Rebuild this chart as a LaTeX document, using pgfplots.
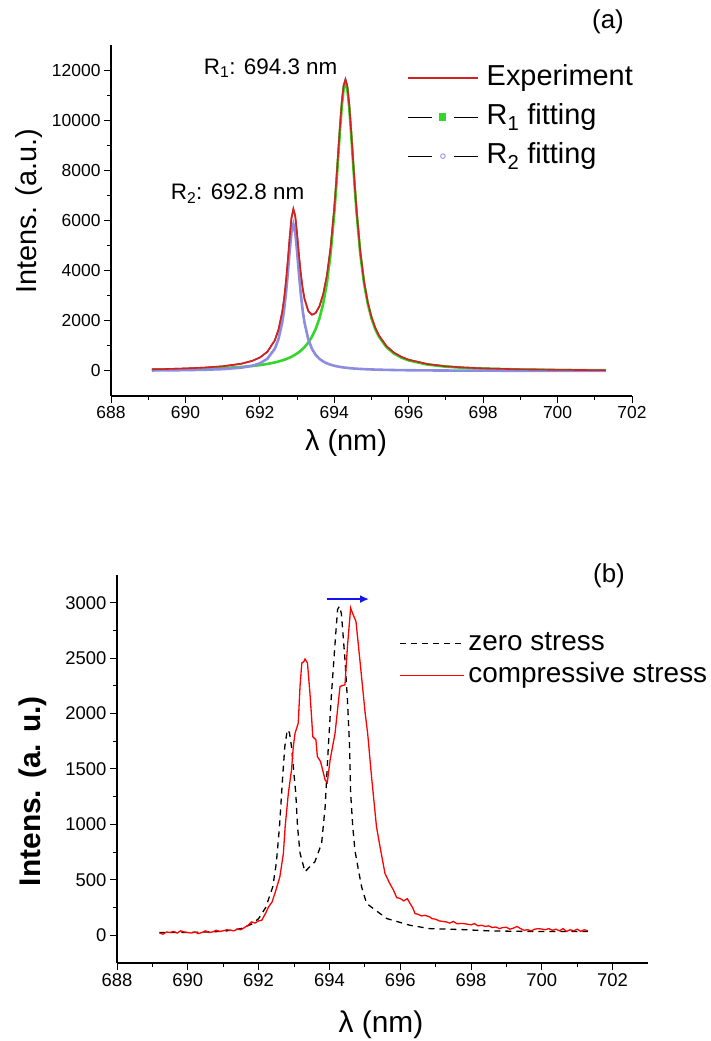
\documentclass[border=0pt]{standalone}
\usepackage{pgfplots}
\usepackage{pgfplotstable}
\pgfplotsset{compat=1.18}
\usetikzlibrary{arrows.meta}
\usepackage{fontspec}
\setmainfont{Liberation Sans}

\definecolor{expred}{RGB}{205,35,35}
\definecolor{fitgreen}{RGB}{50,215,40}
\definecolor{fitlav}{RGB}{140,140,225}
\definecolor{cred}{RGB}{255,0,0}
\definecolor{arrblue}{RGB}{20,20,240}

\pgfplotstableread{
x r1 r2 ex
689.1 46 18 64
689.5 54 22 76
690.0 67 31 98
690.5 86 45 131
691.0 114 71 184
691.5 158 129 286
691.8 197 206 403
692.0 232 302 534
692.2 277 483 760
692.4 337 878 1215
692.5 374 1265 1639
692.6 418 1925 2343
692.65 442 2420 2862
692.7 469 3068 3537
692.75 499 3874 4373
692.8 531 4769 5300
692.85 566 5536 6102
692.9 605 5850 6455
692.95 649 5536 6185
693.0 696 4769 5465
693.05 749 3874 4623
693.1 809 3068 3877
693.15 875 2420 3295
693.2 950 1925 2875
693.3 1129 1265 2394
693.4 1363 878 2241
693.5 1672 639 2311
693.6 2091 483 2574
693.7 2670 377 3047
693.8 3489 302 3791
693.9 4656 247 4903
694.0 6293 206 6499
694.05 7307 189 7496
694.1 8411 174 8585
694.15 9531 161 9692
694.2 10533 149 10682
694.25 11242 138 11380
694.3 11500 129 11629
694.35 11242 120 11362
694.4 10533 112 10645
694.45 9531 105 9636
694.5 8411 99 8510
694.55 7307 93 7400
694.6 6293 88 6381
694.7 4656 79 4735
694.8 3489 71 3560
694.9 2670 64 2734
695.0 2091 58 2149
695.1 1672 53 1725
695.2 1363 48 1411
695.4 950 41 991
695.6 696 35 731
695.8 531 31 562
696.0 418 27 445
696.5 253 20 273
697.0 169 15 184
697.5 121 12 133
698.0 91 10 101
699.0 56 7 63
700.0 38 5 43
701.3 26 4 29
}\specA

\pgfplotstableread{
x y
689.2 25
690.0 25
690.5 30
691.0 35
691.5 60
691.8 100
692.0 150
692.2 250
692.4 437
692.5 650
692.59 979
692.68 1431
692.74 1702
692.81 1853
692.87 1830
692.93 1702
693.0 1450
693.05 1283
693.10 979
693.17 741
693.31 573
693.45 620
693.59 663
693.78 829
693.88 1160
693.97 1702
694.06 2185
694.16 2637
694.23 2938
694.28 2968
694.34 2900
694.44 2486
694.51 2124
694.57 1702
694.60 1281
694.66 979
694.72 768
694.82 588
694.91 437
695.05 287
695.24 241
695.62 151
696.28 90
696.84 60
697.78 51
698.5 40
699.5 35
700.5 35
701.3 35
}\zeroB

\pgfplotstableread{
x y
689.2 20
689.3 10
689.4 30
689.5 25
689.6 35
689.7 20
689.8 40
689.9 30
690.0 25
690.1 20
690.2 30
690.3 15
690.4 25
690.5 40
690.6 25
690.7 30
690.8 45
690.9 35
691.0 40
691.1 50
691.2 45
691.3 40
691.4 55
691.5 50
691.6 70
691.7 90
691.8 121
691.9 110
692.0 130
692.09 136
692.2 200
692.28 256
692.38 300
692.46 377
692.6 527
692.7 739
692.75 979
692.84 1281
692.93 1492
692.98 1700
693.03 1823
693.12 1914
693.17 2245
693.22 2456
693.28 2470
693.31 2492
693.38 2456
693.45 2185
693.5 1950
693.53 1792
693.62 1763
693.66 1612
693.75 1567
693.88 1401
693.94 1377
694.02 1582
694.16 1823
694.30 2245
694.44 2260
694.51 2606
694.60 2953
694.66 2900
694.75 2832
694.86 2486
695.01 2004
695.08 1823
695.19 1431
695.33 979
695.43 798
695.57 558
695.7 470
695.81 407
695.9 340
696.0 332
696.1 310
696.2 330
696.28 286
696.35 250
696.42 196
696.5 190
696.6 175
696.7 180
696.84 165
696.9 150
697.0 145
697.1 130
697.2 125
697.31 120
697.4 110
697.5 125
697.6 105
697.78 106
697.9 100
698.0 94
698.1 105
698.2 85
698.3 90
698.4 80
698.5 85
698.6 70
698.7 75
698.8 60
698.9 70
699.0 72
699.1 55
699.2 65
699.3 80
699.4 60
699.5 45
699.6 50
699.7 40
699.8 55
699.9 60
700.0 56
700.1 50
700.2 60
700.3 45
700.4 55
700.5 40
700.6 60
700.7 35
700.8 50
700.9 40
701.0 55
701.1 35
701.2 50
701.3 40
}\compB

\pgfplotsset{
  myax/.style={
    scale only axis,
    axis lines=left,
    axis line style={-, line width=1.1bp, black},
    tick align=outside,
    major tick length=7bp,
    minor tick length=4bp,
    every tick/.style={black, line width=1bp},
    minor x tick num=1,
    minor y tick num=1,
    scaled ticks=false,
    tick label style={font=\fontsize{17.5}{20}\selectfont},
    /pgf/number format/assume math mode=true,
    /pgf/number format/set thousands separator={},
  }
}

\begin{document}
\begin{tikzpicture}[x=1bp,y=1bp]
\path[use as bounding box] (0,0) rectangle (711,1041);

% ---------------- panel (a) ----------------
\begin{axis}[myax,
  at={(111bp,645bp)}, anchor=south west,
  width=521bp, height=351bp,
  xmin=688, xmax=702, ymin=-1000, ymax=13000,
  xtick={688,690,...,702},
  ytick={0,2000,...,12000},
  xlabel={λ (nm)}, ylabel={Intens. (a.u.)},
  every axis x label/.style={at={(axis description cs:0.451,-0.134)}, anchor=center, font=\fontsize{29}{32}\selectfont},
  every axis y label/.style={at={(axis description cs:-0.158,0.527)}, rotate=90, anchor=center, font=\fontsize{29}{32}\selectfont},
  legend style={draw=none, fill=none, inner sep=0pt,
    at={(axis description cs:0.568,0.953)}, anchor=north west,
    font=\fontsize{29}{32}\selectfont,
    nodes={inner sep=2bp, text height=22bp, text depth=7bp},
    /tikz/every odd column/.append style={column sep=6bp},
    row sep=6bp},
  legend cell align=left,
]
\addplot[expred, line width=1.6bp,
  legend image code/.code={\draw[expred, line width=1.6bp] (0bp,0bp) -- (70bp,0bp);}]
  table[x=x, y=ex] {\specA};
\addlegendentry{Experiment}
\addplot[fitgreen, line width=2.6bp,
  legend image code/.code={\draw[black, line width=1.3bp] (0bp,0bp) -- (24bp,0bp) (46bp,0bp) -- (70bp,0bp); \fill[fitgreen] (32bp,-2.5bp) rectangle (37bp,2.5bp);}]
  table[x=x, y=r1] {\specA};
\addlegendentry{R\textsubscript{1} fitting}
\addplot[fitlav, line width=2.6bp,
  legend image code/.code={\draw[black, line width=1.3bp] (0bp,0bp) -- (24bp,0bp) (46bp,0bp) -- (70bp,0bp); \draw[fitlav, line width=0.8bp] (35bp,0bp) circle (2.3bp);}]
  table[x=x, y=r2] {\specA};
\addlegendentry{R\textsubscript{2} fitting}
\addplot[expred, line width=1.6bp, forget plot] table[x=x, y=ex] {\specA};
\node[anchor=base, font=\fontsize{22.5}{24}\selectfont] at (axis cs:692.29,11840) {R\textsubscript{1}: 694.3 nm};
\node[anchor=base, font=\fontsize{22.5}{24}\selectfont] at (axis cs:691.40,6817) {R\textsubscript{2}: 692.8 nm};
\end{axis}
\node[font=\fontsize{26}{28}\selectfont] at (608,1019) {(a)};

% ---------------- panel (b) ----------------
\begin{axis}[myax,
  at={(117bp,78bp)}, anchor=south west,
  width=531bp, height=388bp,
  xmin=688, xmax=703, ymin=-250, ymax=3250,
  xtick={688,690,...,702},
  ytick={0,500,...,3000},
  xlabel={λ (nm)}, ylabel={\bfseries Intens. (a. u.)},
  tick label style={font=\fontsize{18.5}{20}\selectfont},
  every axis x label/.style={at={(axis description cs:0.497,-0.160)}, anchor=center, font=\fontsize{30}{32}\selectfont},
  every axis y label/.style={at={(axis description cs:-0.158,0.443)}, rotate=90, anchor=center, font=\fontsize{30}{32}\selectfont},
  legend style={draw=none, fill=none, inner sep=0pt,
    at={(axis description cs:0.531,0.863)}, anchor=north west,
    font=\fontsize{28}{30}\selectfont,
    nodes={inner sep=2bp, text height=20bp, text depth=6bp},
    /tikz/every odd column/.append style={column sep=2bp},
    row sep=2bp},
  legend cell align=left,
]
\addplot[black, line width=1.3bp, dash pattern=on 6bp off 5bp,
  legend image code/.code={\draw[black, line width=1.3bp, dash pattern=on 6bp off 5bp] (0bp,0bp) -- (64bp,0bp);}]
  table[x=x, y=y] {\zeroB};
\addlegendentry{zero stress}
\addplot[cred, line width=1.3bp,
  legend image code/.code={\draw[cred, line width=1.3bp] (0bp,0bp) -- (64bp,0bp);}]
  table[x=x, y=y] {\compB};
\addlegendentry{compressive stress}
\draw[arrblue, line width=2.2bp, -{Latex[length=9bp,width=8bp]}] (axis cs:693.93,3033) -- (axis cs:695.12,3033);
\end{axis}
\node[font=\fontsize{26}{28}\selectfont] at (609,465) {(b)};
\end{tikzpicture}
\end{document}
